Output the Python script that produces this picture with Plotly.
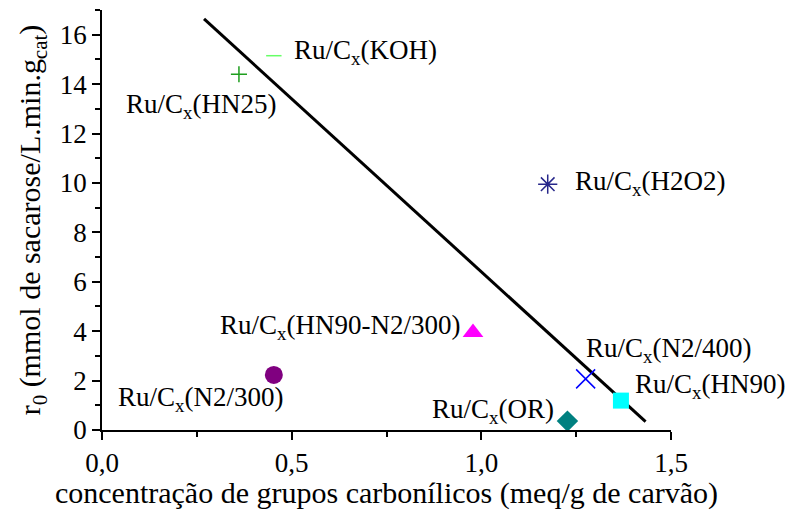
import plotly.graph_objects as go

# ---- data ----
names = ["HN25", "KOH", "H2O2", "HN90-N2/300", "N2/300", "N2/400", "HN90", "OR"]
x_vals = [0.361, 0.453, 1.175, 0.978, 0.453, 1.275, 1.368, 1.227]
y_vals = [14.4, 15.15, 9.95, 3.95, 2.23, 2.07, 1.19, 0.36]
symbols = ["cross-thin", "line-ew", "asterisk", "triangle-up", "circle", "x-thin", "square", "diamond"]
colors = ["#1e9e1e", "#66ff66", "#27278a", "#ff00ff", "#800080", "#0000ff", "#00ffff", "#008080"]
sizes = [11.5, 11, 16, 18, 18, 19, 16, 16.5]

# regression line end points
line_x = [0.269, 1.433]
line_y = [16.64, 0.34]

# label positions (x, y, anchor)
label_x = [0.058, 0.50, 1.241, 0.950, 0.037, 1.270, 1.401, 1.197]
label_y = [13.12, 15.3, 10.0, 4.15, 1.27, 3.25, 1.80, 0.78]
label_anchor = ["left", "left", "left", "right", "left", "left", "left", "right"]

FONT = "'Liberation Serif', 'Times New Roman', Times, serif"
FS_LABEL = 27
FS_TICK = 27
FS_TITLE = 30

fig = go.Figure()
fig.add_trace(go.Scatter(x=line_x, y=line_y, mode="lines",
                         line=dict(color="black", width=3), showlegend=False,
                         cliponaxis=False))
for i in range(len(names)):
    thin = symbols[i] in ("cross-thin", "line-ew", "asterisk", "x-thin")
    fig.add_trace(go.Scatter(
        x=[x_vals[i]], y=[y_vals[i]], mode="markers", showlegend=False,
        cliponaxis=False,
        marker=dict(symbol=symbols[i], size=sizes[i], color=colors[i],
                    line=dict(color=colors[i], width=1.5 if thin else 0))))
    fig.add_annotation(x=label_x[i], y=label_y[i], xref="x", yref="y",
                       text="Ru/C<sub>x</sub>(" + names[i] + ")",
                       showarrow=False, xanchor=label_anchor[i], yanchor="middle",
                       font=dict(family=FONT, size=FS_LABEL, color="black"))

fig.update_layout(
    width=789, height=510,
    margin=dict(l=102, r=118, t=10, b=80, autoexpand=False),
    paper_bgcolor="white", plot_bgcolor="white",
    separators=",.",
    font=dict(family=FONT, size=FS_TICK, color="black"),
)
fig.update_xaxes(
    range=[0, 1.5], tick0=0, dtick=0.5, tickformat=".1f", automargin=False,
    showgrid=False, zeroline=False, showline=True, linecolor="black", linewidth=1.5,
    ticks="outside", ticklen=8, tickwidth=1.5, tickcolor="black",
    minor=dict(dtick=0.25, ticks="outside", ticklen=5, tickwidth=1.5, tickcolor="black", showgrid=False),
    tickfont=dict(family=FONT, size=FS_TICK),
    title=dict(text="concentração de grupos carbonílicos (meq/g de carvão)",
               font=dict(family=FONT, size=FS_TITLE), standoff=8),
)
fig.update_yaxes(
    range=[0, 17], tick0=0, dtick=2, automargin=False,
    showgrid=False, zeroline=False, showline=True, linecolor="black", linewidth=1.5,
    ticks="outside", ticklen=8, tickwidth=1.5, tickcolor="black",
    minor=dict(dtick=1, ticks="outside", ticklen=5, tickwidth=1.5, tickcolor="black", showgrid=False),
    tickfont=dict(family=FONT, size=FS_TICK),
    title=dict(text="r<sub>0</sub> (mmol de sacarose/L.min.g<sub>cat</sub>)",
               font=dict(family=FONT, size=FS_TITLE), standoff=10),
)

fig.write_html("out.html")
